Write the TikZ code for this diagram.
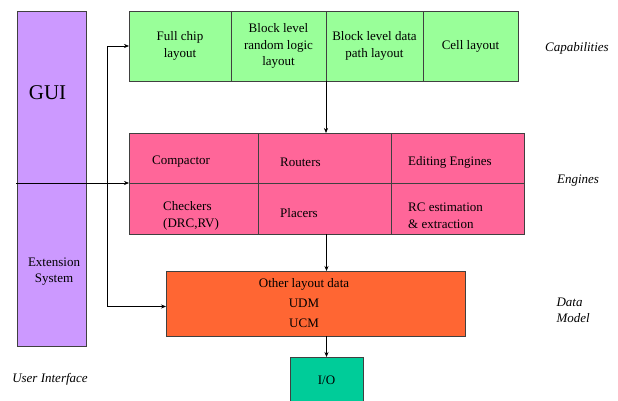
\documentclass[tikz,border=0pt]{standalone}
\usepackage{fontspec}
\setmainfont{Liberation Serif}
\usetikzlibrary{arrows.meta}

\definecolor{guipurple}{HTML}{CC99FF}
\definecolor{capgreen}{HTML}{99FF99}
\definecolor{engpink}{HTML}{FF6699}
\definecolor{dmorange}{HTML}{FF6633}
\definecolor{ioteal}{HTML}{00CC99}

\tikzset{
	box/.style={draw=black!75, line width=0.6pt, inner sep=0pt, outer sep=0pt, align=center, font=\fontsize{13}{16.5}\selectfont},
	capcell/.style={box, fill=capgreen, minimum height=70pt},
	engcell/.style={box, fill=engpink},
	celltext/.style={inner sep=0pt, align=left, font=\fontsize{13}{16.5}\selectfont},
	layer/.style={font=\fontsize{13}{16}\selectfont\itshape, align=left},
	link/.style={-{Stealth[length=5pt,width=4pt]}, line width=0.6pt},
}

\begin{document}
\begin{tikzpicture}[x=1pt, y=-1pt]
	\useasboundingbox (0,0) rectangle (618,401);

	% user interface
	\node[box, fill=guipurple, minimum width=69pt, minimum height=172pt] (gui) at (51.5,97) {};
	\node[box, fill=guipurple, minimum width=69pt, minimum height=163pt] (ext) at (51.5,264.5) {};
	\node[celltext, font=\fontsize{21}{24}\selectfont] (guitext) at (47.5,93) {GUI};
	\node[celltext, align=center] (exttext) at (54,271.5) {Extension\\System};

	% capabilities
	\node[capcell, minimum width=102pt] (full) at (180,46) {Full chip\\layout};
	\node[capcell, minimum width=95pt] (rand) at (278.5,46) {Block level\\random logic\\layout};
	\node[capcell, minimum width=97pt] (dpath) at (374.5,46) {Block level data\\path layout};
	\node[capcell, minimum width=95pt] (cell) at (470.5,46) {Cell layout};

	% engines
	\node[engcell, minimum width=129pt, minimum height=50pt] (comp) at (193.5,158) {};
	\node[engcell, minimum width=133pt, minimum height=50pt] (rout) at (324.5,158) {};
	\node[engcell, minimum width=133pt, minimum height=50pt] (edit) at (457.5,158) {};
	\node[engcell, minimum width=129pt, minimum height=51pt] (check) at (193.5,208.5) {};
	\node[engcell, minimum width=133pt, minimum height=51pt] (plac) at (324.5,208.5) {};
	\node[engcell, minimum width=133pt, minimum height=51pt] (rc) at (457.5,208.5) {};

	\node[celltext, anchor=west] (comptext) at (152,162) {Compactor};
	\node[celltext, anchor=west] (routtext) at (280,162) {Routers};
	\node[celltext, anchor=west] (edittext) at (408,162) {Editing Engines};
	\node[celltext, anchor=west] (checktext) at (163,216) {Checkers\\(DRC,RV)};
	\node[celltext, anchor=west] (plactext) at (280,213) {Placers};
	\node[celltext, anchor=west] (rctext) at (408,216) {RC estimation\\\& extraction};

	% data model and I/O
	\node[box, fill=dmorange, minimum width=299pt, minimum height=65pt] (dm) at (315.5,303.5) {};
	\node[celltext, align=center, font=\fontsize{13}{20}\selectfont] (dmtext) at (304,303) {Other layout data\\UDM\\UCM};
	\node[box, fill=ioteal, minimum width=73pt, minimum height=46pt] (io) at (326.5,380) {I/O};

	% layer names
	\node[layer] (caplabel) at (577,48) {Capabilities};
	\node[layer] (englabel) at (578,181) {Engines};
	\node[layer, anchor=west] (dmlabel) at (553,310) {Data\\Model};
	\node[layer] (uilabel) at (50,379) {User Interface};

	% connectors
	\coordinate (bus) at (107,183);
	\draw[link] ([xshift=-1pt]gui.south west) -- (comp.south west);
	\draw[link] (bus) |- (full.west);
	\draw[link] (bus) |- ([yshift=-3pt]dm.west);
	\draw[link] (rand.south east) -- (rand.south east |- rout.north);
	\draw[link] (io |- plac.south) -- (io |- dm.north);
	\draw[link] (io |- dm.south) -- (io.north);
\end{tikzpicture}
\end{document}
